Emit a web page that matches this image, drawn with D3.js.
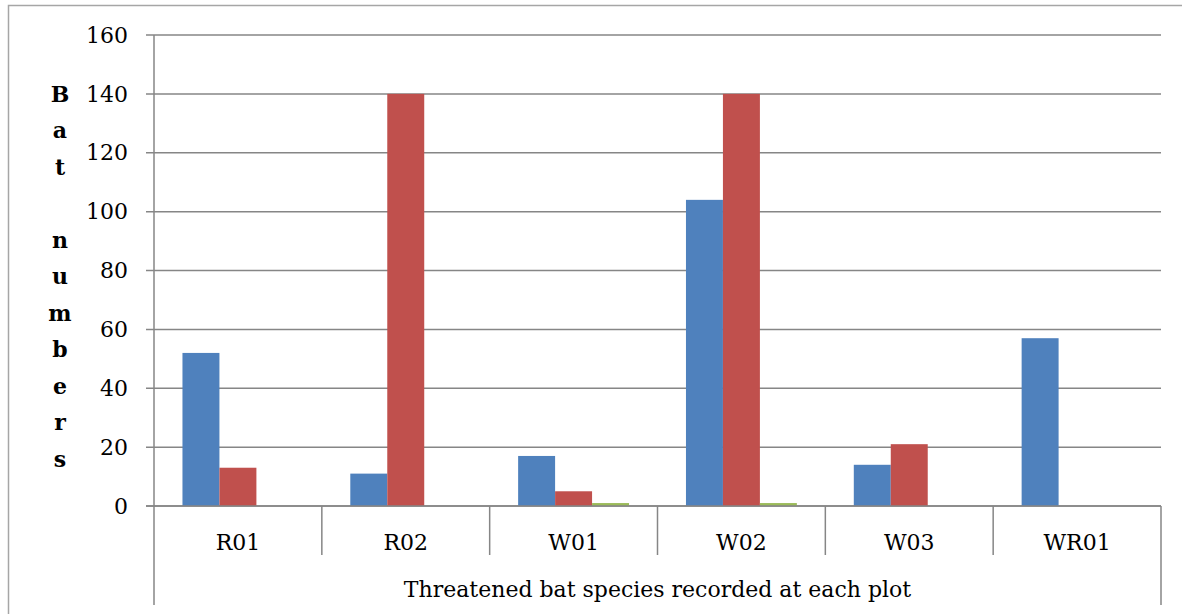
<!DOCTYPE html>
<html><head><meta charset="utf-8">
<script src="https://cdn.jsdelivr.net/npm/d3@7"></script>
<style>body{margin:0;background:#fff}svg{display:block}text{font-family:"DejaVu Serif",serif}</style>
</head><body>
<script>
const categories = ["R01","R02","W01","W02","W03","WR01"];
const seriesNames = ["Series1","Series2","Series3"];
const series1 = [52, 11, 17, 104, 14, 57];
const series2 = [13, 140, 5, 140, 21, 0];
const series3 = [0, 0, 1, 1, 0, 0];
const yTicks = [0,20,40,60,80,100,120,140,160];
const colors = ["#4F81BD","#C0504D","#9BBB59"];
const yTitle = "Bat numbers";
const xTitle = "Threatened bat species recorded at each plot";

(function(){
const W = 1182, H = 614;
const svg = d3.select("body").append("svg").attr("width", W).attr("height", H);
const fs = 22;

// outer frame
svg.append("path").attr("d", `M8.5,${H+2}V5.5H${W+2}`).attr("fill","none").attr("stroke","#a6a6a6").attr("stroke-width",1.5);

const pL = 154, pR = 1161, pT = 35, pB = 506;
const x = d3.scaleBand().domain(categories).range([pL, pR]);
const y = d3.scaleLinear().domain([0,160]).range([pB, pT]);

// gridlines
svg.append("g").selectAll("line").data(yTicks).join("line")
  .attr("x1", pL - 8).attr("x2", pR)
  .attr("y1", d => y(d)).attr("y2", d => y(d))
  .attr("stroke", "#868686").attr("stroke-width", 1.5);

// y labels
svg.append("g").selectAll("text").data(yTicks).join("text")
  .attr("x", 128).attr("y", d => y(d)).attr("dy","0.35em")
  .attr("text-anchor","end").attr("font-size", fs)
  .attr("fill","#000").text(d => d);

// bars
const data = [series1, series2, series3];
const inner = d3.scaleBand().domain(d3.range(3)).range([0, x.bandwidth()]).paddingOuter(0.77).paddingInner(0);
data.forEach((vals, si) => {
  svg.append("g").selectAll("rect").data(vals.map((v,i)=>({v, c: categories[i]}))).join("rect")
    .attr("x", d => x(d.c) + inner(si))
    .attr("width", inner.bandwidth())
    .attr("y", d => y(d.v))
    .attr("height", d => y(0) - y(d.v))
    .attr("fill", colors[si]);
});

// axis line at 0 redrawn
svg.append("line").attr("x1", pL-8).attr("x2", pR).attr("y1", y(0)).attr("y2", y(0))
  .attr("stroke","#868686").attr("stroke-width",1.5);
// y axis line
svg.append("line").attr("x1", pL).attr("x2", pL).attr("y1", pT).attr("y2", 605)
  .attr("stroke","#868686").attr("stroke-width",1.5);
svg.append("line").attr("x1", pR).attr("x2", pR).attr("y1", pB).attr("y2", 605)
  .attr("stroke","#868686").attr("stroke-width",1.5);
// category separators
svg.append("g").selectAll("line").data(categories.slice(1)).join("line")
  .attr("x1", d => x(d)).attr("x2", d => x(d)).attr("y1", pB).attr("y2", 555)
  .attr("stroke","#868686").attr("stroke-width",1.5);

// category labels
svg.append("g").selectAll("text").data(categories).join("text")
  .attr("x", d => x(d) + x.bandwidth()/2).attr("y", 542).attr("dy","0.35em")
  .attr("text-anchor","middle").attr("font-size", fs)
  .text(d => d);

// x title
svg.append("text").attr("x", (pL+pR)/2).attr("y", 589).attr("dy","0.35em")
  .attr("text-anchor","middle").attr("font-size", fs)
  .text(xTitle);

// y title stacked letters
const letters = yTitle.split("");
svg.append("g").selectAll("text").data(letters).join("text")
  .attr("x", 60).attr("y", (d,i) => 94 + i*36.5).attr("dy","0.35em")
  .attr("text-anchor","middle").attr("font-size", fs)
  .attr("font-weight","bold").text(d => d);
})();
</script>
</body></html>
